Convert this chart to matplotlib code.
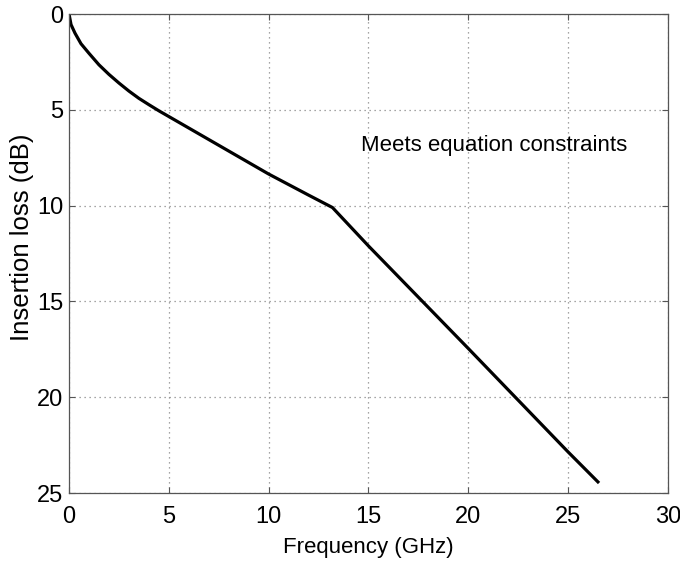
import matplotlib
matplotlib.use("Agg")
import matplotlib.pyplot as plt

plt.rcParams['font.family'] = ['Liberation Sans', 'DejaVu Sans']

freq_ghz = [0, 0.1, 0.3, 0.6, 1.0, 1.5, 2.0, 2.5, 3.0, 3.5, 4.0, 4.5, 5.0, 6.0, 7.0, 8.0,
            9.0, 10.0, 11.0, 12.0, 13.2, 15.0, 20.0, 25.0, 26.5]
loss_db = [0, 0.55, 1.0, 1.55, 2.05, 2.65, 3.15, 3.6, 4.02, 4.4, 4.73, 5.05, 5.35, 5.95,
           6.55, 7.15, 7.75, 8.35, 8.9, 9.45, 10.1, 12.1, 17.45, 22.85, 24.42]
x_ticks = [0, 5, 10, 15, 20, 25, 30]
y_ticks = [0, 5, 10, 15, 20, 25]
annotation = "Meets equation constraints"

fig = plt.figure(figsize=(6.8, 5.61), dpi=100)
ax = fig.add_axes([0.1015, 0.1212, 0.8805, 0.8538])
ax.plot(freq_ghz, loss_db, color='black', lw=2.3, solid_joinstyle='round')
ax.set_xlim(0, 30)
ax.set_ylim(25, 0)
ax.set_xticks(x_ticks)
ax.set_yticks(y_ticks)
ax.grid(True, color='#888888', linestyle=(0, (1, 3)), linewidth=0.9)
ax.tick_params(direction='in', length=4, width=0.8, color='#555555',
               top=True, right=True, labelsize=17, pad=4)
ax.tick_params(axis='x', pad=9)
for s in ax.spines.values():
    s.set_color('#555555')
    s.set_linewidth(0.9)
ax.set_xlabel('Frequency (GHz)', fontsize=16)
ax.set_ylabel('Insertion loss (dB)', fontsize=18.5)
ax.xaxis.set_label_coords(0.5, -0.092)
ax.yaxis.set_label_coords(-0.058, 0.533)
ax.text(14.65, 6.85, annotation, fontsize=16, ha='left', va='center')
fig.savefig('out.png', dpi=100)
